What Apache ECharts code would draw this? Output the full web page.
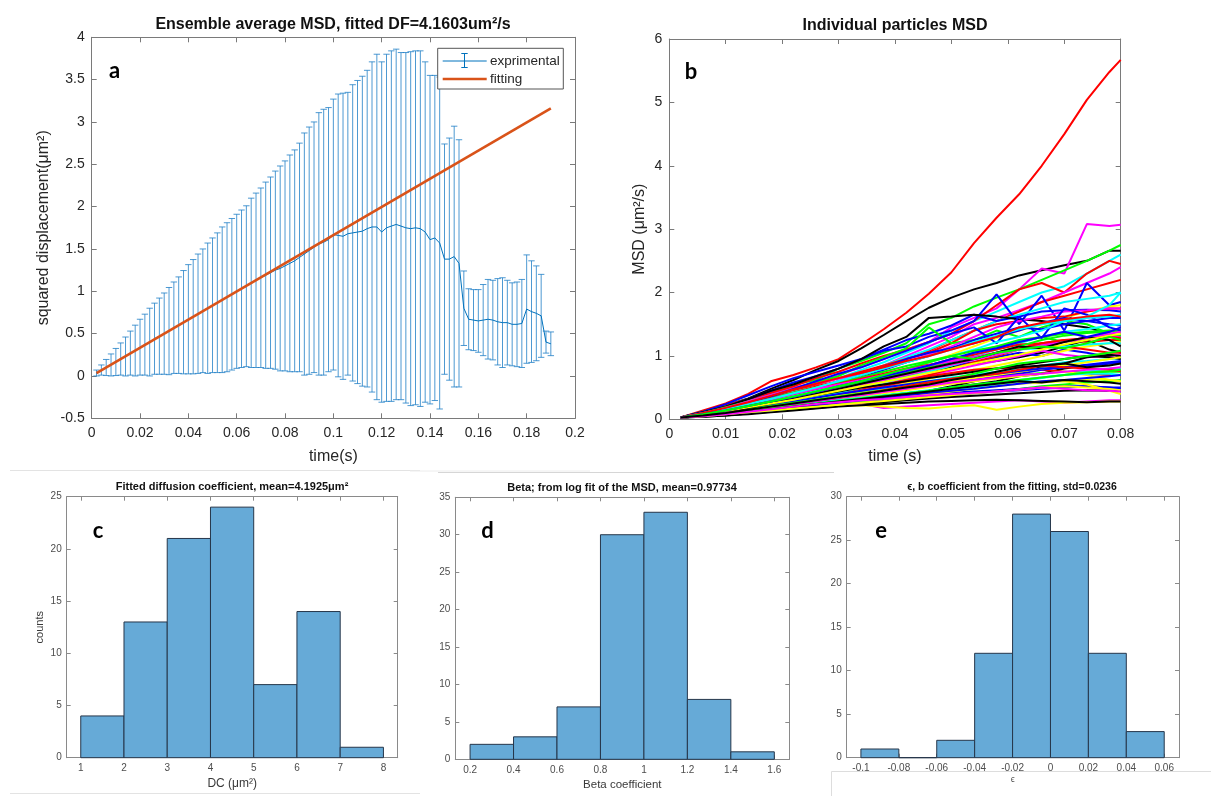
<!DOCTYPE html>
<html><head><meta charset="utf-8">
<script src="https://cdn.jsdelivr.net/npm/echarts@6/dist/echarts.min.js"></script>
<style>html,body{margin:0;padding:0;background:#fff}#c{width:1211px;height:796px}</style>
</head><body><div id="c"></div>
<script>
// ---------- Panel a: ensemble average MSD ----------
const msdTime = [];
for (let k = 1; k <= 95; k++) msdTime.push(+(0.002 * k).toFixed(3));
const msdMean = [
  0.035,0.07,0.10,0.13,0.165,0.20,0.23,0.27,0.30,0.34,
  0.37,0.40,0.44,0.47,0.50,0.53,0.57,0.60,0.635,0.67,
  0.70,0.735,0.77,0.80,0.835,0.865,0.90,0.93,0.965,1.00,
  1.03,1.06,1.10,1.13,1.16,1.19,1.22,1.25,1.27,1.30,
  1.33,1.36,1.40,1.44,1.48,1.52,1.56,1.58,1.61,1.67,
  1.66,1.65,1.68,1.69,1.70,1.71,1.74,1.76,1.76,1.70,
  1.75,1.77,1.79,1.77,1.75,1.74,1.75,1.74,1.70,1.61,
  1.63,1.57,1.38,1.38,1.41,1.33,0.80,0.67,0.66,0.65,
  0.66,0.67,0.66,0.64,0.63,0.63,0.61,0.61,0.62,0.79,
  0.76,0.74,0.71,0.40,0.38
];
const msdErr = [
  0.035,0.06,0.095,0.13,0.16,0.19,0.23,0.26,0.30,0.33,
  0.36,0.40,0.42,0.45,0.48,0.515,0.54,0.57,0.61,0.645,
  0.675,0.705,0.73,0.77,0.795,0.825,0.86,0.88,0.895,0.91,
  0.93,0.95,1.00,1.03,1.06,1.10,1.13,1.17,1.21,1.24,
  1.28,1.31,1.35,1.43,1.46,1.48,1.55,1.57,1.56,1.60,
  1.67,1.69,1.67,1.75,1.79,1.83,1.87,1.95,2.04,2.01,
  2.05,2.07,2.07,2.05,2.07,2.09,2.09,2.10,2.01,1.94,
  1.92,1.96,1.36,1.43,1.54,1.46,0.44,0.36,0.36,0.37,
  0.42,0.47,0.47,0.51,0.53,0.50,0.49,0.50,0.52,0.64,
  0.60,0.56,0.49,0.13,0.14
];
const fitTime = [0.002, 0.19];
const fitValue = [0.033, 3.16];

// ---------- Panel b: individual particle MSD ----------
const particleTime = [0.002,0.006,0.010,0.014,0.018,0.022,0.026,0.030,0.034,0.038,0.042,0.046,0.050,0.054,0.058,0.062,0.066,0.070,0.074,0.078,0.080];
const particleColor = ['r','k','m','g','c','r','m','r','b','c','b','y','r','k','g','b','m','c','g','r','k','b','y','c','m','g','k','r','y','b','c','k','m','y','g','k','r','b','g','y','k','c','m','b','y','b','b',
  'c','g','k','r','y','m','b','g','c','k','r','y','b','m','g','c','k','r','y','b','g','m','k'];
const particleMSD = [
  [0.03,0.14,0.25,0.40,0.60,0.70,0.82,0.95,1.18,1.42,1.68,1.98,2.32,2.78,3.18,3.55,4.00,4.50,5.04,5.48,5.67],
  [0.03,0.12,0.22,0.33,0.48,0.62,0.78,0.92,1.12,1.33,1.55,1.76,1.92,2.05,2.15,2.27,2.35,2.43,2.50,2.66,2.66],
  [0.03,0.10,0.20,0.30,0.40,0.50,0.58,0.70,0.82,0.95,1.10,1.22,1.45,1.60,1.75,2.05,2.38,2.30,3.08,3.05,3.07],
  [0.03,0.12,0.22,0.32,0.44,0.55,0.62,0.80,0.92,1.05,1.20,1.50,1.60,1.78,1.92,2.05,2.20,2.35,2.50,2.66,2.75],
  [0.03,0.10,0.18,0.27,0.36,0.44,0.55,0.65,0.78,0.90,1.05,1.20,1.40,1.55,1.70,1.85,2.00,2.10,2.30,2.50,2.60],
  [0.03,0.12,0.22,0.32,0.42,0.52,0.65,0.75,0.88,1.00,1.10,1.22,1.35,1.55,1.80,2.05,2.15,2.00,2.30,2.50,2.45],
  [0.03,0.09,0.16,0.24,0.33,0.42,0.50,0.60,0.72,0.85,1.00,1.15,1.30,1.50,1.60,1.72,1.85,2.00,2.15,2.30,2.40],
  [0.03,0.10,0.18,0.26,0.34,0.42,0.52,0.60,0.70,0.82,0.95,1.08,1.25,1.40,1.55,1.70,1.85,1.95,2.05,2.15,2.20],
  [0.03,0.11,0.20,0.32,0.45,0.58,0.68,0.80,0.95,1.08,1.15,1.30,1.40,1.55,1.97,1.50,1.95,1.40,2.15,1.80,1.85],
  [0.03,0.08,0.15,0.22,0.30,0.40,0.50,0.60,0.72,0.85,0.98,1.10,1.25,1.40,1.55,1.65,1.75,1.85,1.90,1.95,2.00],
  [0.03,0.12,0.24,0.38,0.52,0.65,0.75,0.85,0.95,1.10,1.25,1.35,1.48,1.65,1.55,1.62,1.70,1.72,1.73,1.72,1.70],
  [0.03,0.07,0.12,0.18,0.25,0.32,0.40,0.48,0.58,0.68,0.78,0.90,1.02,1.15,1.28,1.40,1.50,1.60,1.70,1.78,1.80],
  [0.03,0.09,0.17,0.26,0.36,0.46,0.55,0.65,0.75,0.85,0.95,1.05,1.20,1.40,1.50,1.55,1.60,1.62,1.70,1.75,1.75],
  [0.03,0.11,0.20,0.32,0.45,0.55,0.68,0.80,0.95,1.15,1.30,1.60,1.62,1.65,1.62,1.58,1.55,1.50,1.45,1.35,1.30],
  [0.03,0.10,0.19,0.28,0.38,0.48,0.58,0.68,0.85,0.98,1.12,1.45,1.20,1.25,1.40,1.30,1.45,1.55,1.50,1.35,1.30],
  [0.03,0.08,0.14,0.21,0.28,0.36,0.45,0.55,0.66,0.78,0.90,1.00,1.12,1.25,1.35,1.45,1.42,1.50,1.55,1.50,1.48],
  [0.03,0.10,0.18,0.28,0.38,0.48,0.56,0.64,0.72,0.80,0.90,1.02,1.15,1.30,1.45,1.55,1.62,1.70,1.72,1.75,1.75],
  [0.03,0.07,0.13,0.19,0.26,0.33,0.40,0.47,0.55,0.63,0.72,0.80,0.90,1.00,1.10,1.20,1.30,1.38,1.42,1.48,1.50],
  [0.03,0.08,0.14,0.20,0.27,0.34,0.42,0.50,0.58,0.66,0.74,0.82,0.92,1.05,1.15,1.22,1.30,1.35,1.38,1.40,1.40],
  [0.03,0.08,0.14,0.22,0.30,0.40,0.48,0.55,0.62,0.70,0.78,0.85,0.95,1.02,1.10,1.18,1.20,1.25,1.22,1.25,1.25],
  [0.03,0.07,0.12,0.18,0.24,0.30,0.37,0.44,0.52,0.60,0.68,0.75,0.82,0.88,0.92,0.98,1.05,1.15,1.25,1.10,1.05],
  [0.03,0.07,0.12,0.17,0.23,0.30,0.37,0.45,0.52,0.60,0.68,0.76,0.85,0.90,0.98,1.05,1.00,1.10,1.05,0.98,0.95],
  [0.03,0.06,0.10,0.15,0.20,0.26,0.32,0.38,0.44,0.50,0.57,0.64,0.72,0.78,0.85,0.92,1.00,1.08,1.15,1.20,1.22],
  [0.03,0.06,0.10,0.14,0.19,0.24,0.30,0.36,0.42,0.48,0.54,0.60,0.66,0.70,0.75,0.80,0.85,0.90,0.92,0.95,0.96],
  [0.03,0.08,0.13,0.19,0.25,0.32,0.38,0.44,0.50,0.57,0.64,0.70,0.77,0.85,0.92,1.00,1.08,1.02,0.98,1.00,1.02],
  [0.03,0.06,0.10,0.14,0.18,0.23,0.28,0.33,0.38,0.43,0.48,0.53,0.58,0.63,0.66,0.70,0.73,0.75,0.74,0.75,0.75],
  [0.03,0.06,0.09,0.13,0.17,0.21,0.25,0.29,0.33,0.37,0.41,0.45,0.50,0.55,0.60,0.68,0.72,0.80,0.85,0.88,0.90],
  [0.03,0.07,0.12,0.18,0.24,0.30,0.36,0.42,0.48,0.55,0.62,0.68,0.73,0.78,0.80,0.82,0.78,0.75,0.72,0.70,0.70],
  [0.03,0.05,0.08,0.11,0.14,0.18,0.22,0.26,0.30,0.34,0.38,0.42,0.46,0.50,0.54,0.57,0.60,0.62,0.63,0.62,0.60],
  [0.03,0.05,0.08,0.11,0.14,0.17,0.20,0.23,0.26,0.29,0.32,0.35,0.38,0.41,0.44,0.46,0.48,0.50,0.52,0.50,0.50],
  [0.03,0.05,0.08,0.12,0.16,0.20,0.24,0.28,0.32,0.35,0.38,0.42,0.46,0.50,0.55,0.60,0.65,0.70,0.75,0.80,0.80],
  [0.03,0.04,0.06,0.09,0.12,0.15,0.18,0.21,0.24,0.27,0.30,0.33,0.35,0.37,0.39,0.41,0.43,0.45,0.46,0.45,0.45],
  [0.03,0.05,0.08,0.11,0.14,0.17,0.20,0.22,0.24,0.18,0.20,0.22,0.24,0.26,0.28,0.30,0.28,0.26,0.28,0.30,0.30],
  [0.03,0.05,0.07,0.10,0.13,0.16,0.19,0.21,0.22,0.20,0.18,0.17,0.20,0.22,0.15,0.20,0.24,0.26,0.27,0.28,0.28],
  [0.03,0.05,0.07,0.10,0.13,0.16,0.20,0.24,0.28,0.32,0.35,0.38,0.40,0.42,0.45,0.48,0.52,0.55,0.58,0.60,0.62],
  [0.03,0.05,0.08,0.11,0.15,0.19,0.23,0.27,0.31,0.35,0.40,0.45,0.52,0.60,0.68,0.75,0.82,0.88,0.98,1.02,1.00],
  [0.03,0.06,0.10,0.15,0.20,0.26,0.32,0.38,0.45,0.52,0.60,0.70,0.80,0.90,1.00,1.10,1.20,1.15,1.10,1.05,1.05],
  [0.03,0.06,0.10,0.14,0.18,0.22,0.27,0.32,0.37,0.42,0.47,0.52,0.57,0.62,0.68,0.72,0.78,0.82,0.86,0.90,0.92],
  [0.03,0.07,0.12,0.17,0.23,0.30,0.37,0.44,0.52,0.60,0.68,0.76,0.85,0.95,1.05,1.15,1.25,1.32,1.36,1.38,1.40],
  [0.03,0.06,0.09,0.13,0.17,0.21,0.26,0.31,0.36,0.41,0.46,0.51,0.56,0.60,0.64,0.68,0.72,0.75,0.70,0.62,0.60],
  [0.03,0.04,0.06,0.08,0.11,0.14,0.17,0.20,0.22,0.24,0.26,0.28,0.29,0.30,0.31,0.30,0.29,0.28,0.27,0.28,0.28],
  [0.03,0.07,0.11,0.16,0.22,0.28,0.35,0.42,0.50,0.58,0.66,0.75,0.85,0.95,1.02,1.10,1.12,1.15,1.18,1.20,1.20],
  [0.03,0.08,0.14,0.20,0.27,0.34,0.41,0.48,0.55,0.62,0.70,0.78,0.86,0.94,1.02,1.10,1.18,1.24,1.28,1.30,1.30],
  [0.03,0.06,0.10,0.14,0.18,0.22,0.26,0.30,0.33,0.36,0.38,0.40,0.42,0.44,0.46,0.48,0.50,0.52,0.52,0.50,0.48],
  [0.03,0.06,0.09,0.12,0.15,0.18,0.22,0.26,0.30,0.33,0.36,0.40,0.44,0.48,0.52,0.56,0.58,0.60,0.55,0.45,0.40],
  [0.03,0.09,0.17,0.26,0.36,0.48,0.60,0.72,0.82,0.95,1.08,1.22,1.35,1.45,1.20,1.62,1.28,1.75,1.65,1.45,1.40],
  [0.03,0.07,0.13,0.20,0.28,0.37,0.47,0.58,0.70,0.82,0.95,1.05,1.12,1.20,1.30,1.40,1.52,1.60,1.55,1.60,1.60],
  [0.03,0.08,0.14,0.21,0.29,0.37,0.45,0.53,0.62,0.70,0.80,0.90,1.00,1.10,1.22,1.30,1.40,1.55,1.60,1.62,1.65],
  [0.03,0.09,0.16,0.24,0.33,0.42,0.50,0.58,0.66,0.75,0.84,0.92,1.00,1.08,1.15,1.25,1.30,1.22,1.28,1.35,1.32],
  [0.03,0.08,0.14,0.20,0.26,0.32,0.38,0.44,0.50,0.55,0.60,0.65,0.70,0.75,0.80,0.85,0.90,0.95,1.00,0.98,0.95],
  [0.03,0.09,0.16,0.24,0.32,0.40,0.48,0.56,0.64,0.72,0.80,0.86,0.92,0.98,1.05,1.12,1.20,1.25,1.28,1.30,1.28],
  [0.03,0.07,0.12,0.17,0.22,0.27,0.32,0.37,0.42,0.46,0.50,0.55,0.60,0.65,0.70,0.75,0.80,0.85,0.90,0.95,0.98],
  [0.03,0.09,0.16,0.24,0.32,0.40,0.48,0.55,0.62,0.70,0.78,0.85,0.92,0.98,1.05,1.10,1.15,1.22,1.28,1.35,1.38],
  [0.03,0.07,0.12,0.17,0.22,0.28,0.34,0.40,0.45,0.50,0.55,0.60,0.64,0.68,0.72,0.76,0.80,0.82,0.85,0.88,0.90],
  [0.03,0.07,0.11,0.16,0.21,0.26,0.31,0.36,0.41,0.46,0.52,0.58,0.64,0.72,0.80,0.88,0.92,0.95,1.00,1.05,1.08],
  [0.03,0.06,0.10,0.14,0.18,0.22,0.26,0.30,0.34,0.38,0.42,0.46,0.50,0.54,0.58,0.62,0.66,0.70,0.72,0.72,0.70],
  [0.03,0.07,0.12,0.18,0.25,0.32,0.40,0.48,0.56,0.64,0.72,0.80,0.88,0.95,1.05,1.15,1.12,1.22,1.30,1.25,1.15],
  [0.03,0.06,0.10,0.14,0.19,0.24,0.29,0.34,0.40,0.46,0.52,0.58,0.64,0.68,0.72,0.78,0.85,0.82,0.80,0.78,0.76],
  [0.03,0.08,0.13,0.19,0.25,0.31,0.38,0.45,0.52,0.59,0.66,0.73,0.80,0.88,0.95,1.02,1.10,1.18,1.25,1.32,1.35],
  [0.03,0.05,0.08,0.11,0.14,0.18,0.22,0.26,0.30,0.34,0.38,0.42,0.45,0.48,0.52,0.56,0.60,0.62,0.65,0.68,0.70],
  [0.03,0.06,0.10,0.14,0.19,0.24,0.29,0.34,0.38,0.43,0.48,0.53,0.58,0.62,0.66,0.70,0.72,0.75,0.78,0.80,0.82],
  [0.03,0.06,0.09,0.13,0.17,0.21,0.25,0.29,0.33,0.37,0.41,0.45,0.50,0.55,0.58,0.62,0.66,0.70,0.74,0.76,0.78],
  [0.03,0.09,0.16,0.24,0.32,0.41,0.50,0.60,0.70,0.80,0.90,1.00,1.10,1.22,1.32,1.42,1.50,1.55,1.62,1.80,2.00],
  [0.03,0.05,0.08,0.12,0.16,0.20,0.24,0.28,0.32,0.36,0.40,0.44,0.48,0.52,0.56,0.60,0.58,0.62,0.60,0.58,0.56],
  [0.03,0.10,0.18,0.27,0.37,0.47,0.56,0.65,0.73,0.82,0.92,1.00,1.10,1.20,1.30,1.45,1.52,1.58,1.62,1.65,1.62],
  [0.03,0.05,0.08,0.11,0.14,0.17,0.20,0.23,0.26,0.29,0.32,0.35,0.38,0.41,0.44,0.47,0.50,0.52,0.50,0.48,0.46],
  [0.03,0.08,0.14,0.21,0.28,0.35,0.43,0.52,0.60,0.68,0.76,0.85,0.95,1.05,1.12,1.22,1.30,1.38,1.30,1.38,1.45],
  [0.03,0.08,0.14,0.21,0.28,0.36,0.44,0.52,0.60,0.70,0.80,0.90,1.00,0.95,1.05,1.10,1.15,1.12,1.20,1.30,1.25],
  [0.03,0.05,0.08,0.12,0.16,0.20,0.24,0.27,0.30,0.32,0.35,0.38,0.40,0.42,0.44,0.47,0.50,0.48,0.46,0.45,0.44],
  [0.03,0.06,0.10,0.15,0.20,0.25,0.30,0.35,0.40,0.45,0.50,0.55,0.62,0.68,0.75,0.82,0.85,0.88,0.82,0.85,0.88]
];

// ---------- Panels c, d, e: histograms ----------
const dcEdges = [1,2,3,4,5,6,7,8];
const dcCounts = [4,13,21,24,7,14,1];
const dcTicks = [1,2,3,4,5,6,7,8];
const betaEdges = [0.2,0.4,0.6,0.8,1.0,1.2,1.4,1.6];
const betaCounts = [2,3,7,30,33,8,1];
const betaTicks = [0.2,0.4,0.6,0.8,1,1.2,1.4,1.6];
const epsEdges = [-0.1,-0.08,-0.06,-0.04,-0.02,0,0.02,0.04,0.06];
const epsCounts = [1,0,2,12,28,26,12,3];
const epsTicks = [-0.1,-0.08,-0.06,-0.04,-0.02,0,0.02,0.04,0.06];

// ---------- styling helpers ----------
const FONT = 'Liberation Sans';
const colorMap = {r:'#FF0000', g:'#00FF00', b:'#0000FF', c:'#00FFFF', m:'#FF00FF', y:'#FFFF00', k:'#000000'};

const grids = [
  {left:91.7, top:37.3, width:483.3, height:381},
  {left:669.3, top:39, width:451.4, height:380.3},
  {left:66.7, top:496.7, width:331, height:261},
  {left:455.3, top:497.3, width:334, height:262},
  {left:846.7, top:496.7, width:332.3, height:261}
];

function axes(grid, o, isX) {
  const lc = o.lineColor;
  const base = {
    type:'value', gridIndex:grid, min:o.min, max:o.max,
    axisLine:{show:true, onZero:false, lineStyle:{color:lc, width:1}},
    splitLine:{show:false},
    axisTick:{show:true, inside:true, length:o.tickLen || 5, lineStyle:{color:lc, width:1}}
  };
  if (o.interval != null) base.interval = o.interval;
  if (o.ticks) base.axisTick.customValues = o.ticks;
  const main = Object.assign({}, base, {
    position: isX ? 'bottom' : 'left',
    axisTick: Object.assign({}, base.axisTick),
    axisLabel:{show:true, fontSize:o.fontSize, color:o.labelColor, fontFamily:FONT, margin:o.margin},
    name:o.name, nameLocation:'middle', nameGap:o.nameGap,
    nameTextStyle:{fontFamily:FONT, fontSize:o.nameSize, color:o.nameColor || '#262626'}
  });
  if (o.ticks) main.axisLabel.customValues = o.ticks;
  const second = Object.assign({}, base, {
    position: isX ? 'top' : 'right',
    axisTick: Object.assign({}, base.axisTick),
    axisLabel:{show:false}
  });
  return [main, second];
}

const bigLab = '#262626', bigLine = '#7a7a7a';
const smLab = '#4d4d4d', smLine = '#8a8a8a';
const xAxes = [].concat(
  axes(0, {min:0, max:0.2, interval:0.02, fontSize:14, labelColor:bigLab, lineColor:bigLine, margin:8, name:'time(s)', nameGap:30, nameSize:16}, true),
  axes(1, {min:0, max:0.08, interval:0.01, fontSize:14, labelColor:bigLab, lineColor:bigLine, margin:8, name:'time (s)', nameGap:29, nameSize:16}, true),
  axes(2, {min:0.675, max:8.33, ticks:dcTicks, fontSize:10, labelColor:smLab, lineColor:smLine, margin:6, name:'DC (μm²)', nameGap:20, nameSize:12, nameColor:'#3a3a3a', tickLen:4}, true),
  axes(3, {min:0.132, max:1.669, ticks:betaTicks, fontSize:10, labelColor:smLab, lineColor:smLine, margin:6, name:'Beta coefficient', nameGap:20, nameSize:11.5, nameColor:'#3a3a3a', tickLen:4}, true),
  axes(4, {min:-0.1075, max:0.0678, ticks:epsTicks, fontSize:10, labelColor:smLab, lineColor:smLine, margin:6, name:'ϵ', nameGap:15, nameSize:9, nameColor:'#555', tickLen:4}, true)
);
const yAxes = [].concat(
  axes(0, {min:-0.5, max:4, interval:0.5, fontSize:14, labelColor:bigLab, lineColor:bigLine, margin:7, name:'squared displacement(μm²)', nameGap:40, nameSize:16}, false),
  axes(1, {min:0, max:6, interval:1, fontSize:14, labelColor:bigLab, lineColor:bigLine, margin:7, name:'MSD (μm²/s)', nameGap:22, nameSize:16}, false),
  axes(2, {min:0, max:25, interval:5, fontSize:10, labelColor:smLab, lineColor:smLine, margin:5, name:'counts', nameGap:21, nameSize:11, nameColor:'#3a3a3a', tickLen:4}, false),
  axes(3, {min:0, max:35, interval:5, fontSize:10, labelColor:smLab, lineColor:smLine, margin:5, name:'', nameGap:20, nameSize:11, tickLen:4}, false),
  axes(4, {min:0, max:30, interval:5, fontSize:10, labelColor:smLab, lineColor:smLine, margin:5, name:'', nameGap:20, nameSize:11, tickLen:4}, false)
);

function histSeries(edges, counts, axisIdx) {
  return {
    type:'custom', xAxisIndex:axisIdx, yAxisIndex:axisIdx, silent:true,
    encode:{x:[0,1], y:2},
    data: counts.map((c, i) => [edges[i], edges[i+1], c]),
    renderItem(params, api) {
      const p0 = api.coord([api.value(0), 0]);
      const p1 = api.coord([api.value(1), api.value(2)]);
      return {type:'rect', shape:{x:p0[0], y:p1[1], width:p1[0]-p0[0], height:p0[1]-p1[1]},
        style:{fill:'#66AAD7', stroke:'#26364a', lineWidth:1}};
    }
  };
}

const series = [];
// error bars
series.push({
  type:'custom', xAxisIndex:0, yAxisIndex:0, silent:true,
  encode:{x:0, y:1},
  data: msdTime.map((t, i) => [t, msdMean[i], msdErr[i]]),
  renderItem(params, api) {
    const t = api.value(0), m = api.value(1), e = api.value(2);
    const hi = api.coord([t, m + e]), lo = api.coord([t, m - e]);
    const w = 3.2;
    const st = {stroke:'#1f7fc6', lineWidth:0.8};
    return {type:'group', children:[
      {type:'line', shape:{x1:hi[0], y1:hi[1], x2:lo[0], y2:lo[1]}, style:st},
      {type:'line', shape:{x1:hi[0]-w, y1:hi[1], x2:hi[0]+w, y2:hi[1]}, style:st},
      {type:'line', shape:{x1:lo[0]-w, y1:lo[1], x2:lo[0]+w, y2:lo[1]}, style:st}
    ]};
  }
});
series.push({
  type:'line', xAxisIndex:0, yAxisIndex:0, silent:true, symbol:'none',
  data: msdTime.map((t, i) => [t, msdMean[i]]),
  lineStyle:{color:'#0072BD', width:1}
});
series.push({
  type:'line', xAxisIndex:0, yAxisIndex:0, silent:true, symbol:'none',
  data: fitTime.map((t, i) => [t, fitValue[i]]),
  lineStyle:{color:'#D95319', width:2.6}
});
// particle lines
particleMSD.forEach((vals, i) => {
  series.push({
    type:'line', xAxisIndex:2, yAxisIndex:2, silent:true, symbol:'none', clip:true,
    data: particleTime.map((t, j) => [t, vals[j]]),
    lineStyle:{color:colorMap[particleColor[i]], width:2}
  });
});
series.push(histSeries(dcEdges, dcCounts, 4));
series.push(histSeries(betaEdges, betaCounts, 6));
series.push(histSeries(epsEdges, epsCounts, 8));

function txt(x, y, text, size, weight, color, family, align) {
  return {type:'text', x:x, y:y, silent:true, z:100,
    style:{text:text, fontSize:size, fontWeight:weight || 'normal', fontFamily:family || FONT,
      fill:color || '#000', textAlign:align || 'center', textVerticalAlign:'middle'}};
}
function seg(x1, y1, x2, y2, color, w) {
  return {type:'line', silent:true, z:100, shape:{x1:x1, y1:y1, x2:x2, y2:y2}, style:{stroke:color, lineWidth:w || 1}};
}

const graphic = [
  // titles
  txt(333, 25, 'Ensemble average MSD, fitted DF=4.1603um²/s', 16, 'bold', '#111'),
  txt(895, 26, 'Individual particles MSD', 16, 'bold', '#111'),
  txt(232, 487, 'Fitted diffusion coefficient, mean=4.1925μm²', 11, 'bold', '#111'),
  txt(622, 487.5, 'Beta; from log fit of the MSD, mean=0.97734', 11, 'bold', '#111'),
  txt(1012, 487, 'ϵ, b coefficient from the fitting, std=0.0236', 10.5, 'bold', '#111'),
  // panel letters
  txt(114.7, 71, 'a', 22, 'bold', '#000', 'Lato'),
  txt(691, 71.5, 'b', 22, 'bold', '#000', 'Lato'),
  txt(98, 531, 'c', 22, 'bold', '#000', 'Lato'),
  txt(487.5, 531, 'd', 22, 'bold', '#000', 'Lato'),
  txt(881, 531, 'e', 22, 'bold', '#000', 'Lato'),
  // legend of panel a
  {type:'rect', silent:true, z:99, shape:{x:437.7, y:48.3, width:125.6, height:40.7},
    style:{fill:'#fff', stroke:'#555', lineWidth:1}},
  seg(442.7, 61, 486.7, 61, '#0072BD', 1),
  seg(464.5, 53.5, 464.5, 67.5, '#0072BD', 1),
  seg(461.3, 53.5, 467.7, 53.5, '#0072BD', 1),
  seg(461.3, 67.5, 467.7, 67.5, '#0072BD', 1),
  txt(490, 61, 'exprimental', 13.5, 'normal', '#262626', FONT, 'left'),
  seg(442.7, 79, 486.7, 79, '#D95319', 2.6),
  txt(490, 79, 'fitting', 13.5, 'normal', '#262626', FONT, 'left'),
  // faint frame lines of the original figure
  seg(10, 470.5, 420, 470.5, '#e3e3e3', 1),
  seg(410, 471, 590, 471, '#ececec', 1),
  seg(438, 472.5, 826, 472.5, '#d6d6d6', 1),
  seg(820, 472.5, 834, 472.5, '#d6d6d6', 1),
  seg(10, 793.5, 420, 793.5, '#e3e3e3', 1),
  seg(831.5, 771.5, 831.5, 796, '#dddddd', 1),
  seg(831.5, 771.5, 1211, 771.5, '#dddddd', 1)
];

const chart = echarts.init(document.getElementById('c'), null, {renderer:'canvas'});
chart.setOption({
  animation:false,
  backgroundColor:'#fff',
  grid: grids,
  xAxis: xAxes,
  yAxis: yAxes,
  series: series,
  graphic: graphic
});
</script>
</body></html>
